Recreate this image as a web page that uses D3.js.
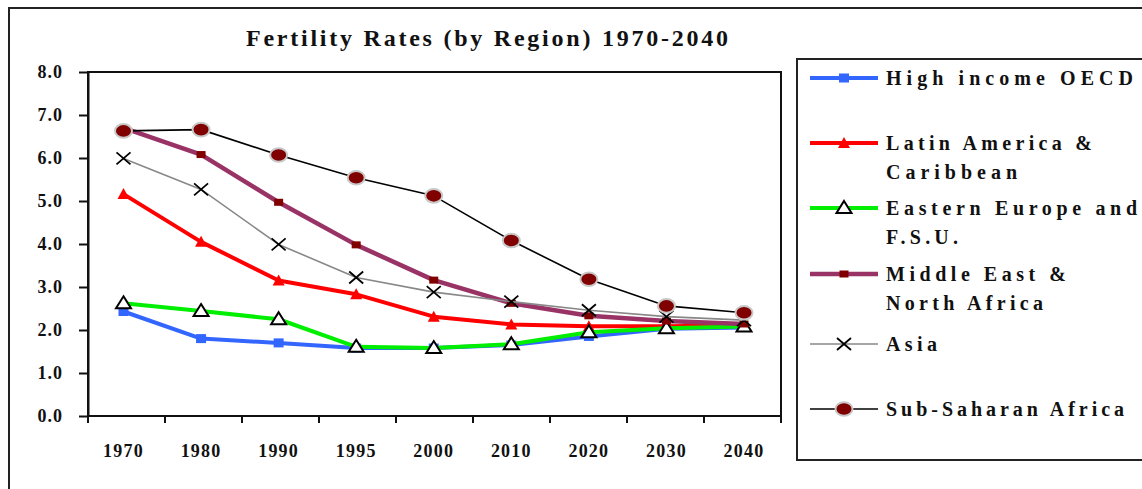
<!DOCTYPE html>
<html>
<head>
<meta charset="utf-8">
<script src="https://cdn.jsdelivr.net/npm/d3@7"></script>
<style>
  body { margin: 0; background: #fff; }
  text { font-family: "Liberation Serif", "Times New Roman", serif; font-weight: bold; fill: #111; }
</style>
</head>
<body>
<svg id="chart" width="1142" height="489"></svg>
<script>
// data
const years = ["1970", "1980", "1990", "1995", "2000", "2010", "2020", "2030", "2040"];
const highIncomeOECD = [2.43, 1.80, 1.70, 1.58, 1.58, 1.65, 1.85, 2.03, 2.06];
const latinAmerica   = [5.16, 4.05, 3.15, 2.83, 2.31, 2.13, 2.09, 2.09, 2.11];
const easternEurope  = [2.62, 2.44, 2.25, 1.61, 1.58, 1.67, 1.95, 2.04, 2.08];
const middleEast     = [6.70, 6.08, 4.97, 3.98, 3.16, 2.62, 2.33, 2.21, 2.14];
const asia           = [5.99, 5.27, 3.99, 3.22, 2.88, 2.66, 2.46, 2.31, 2.23];
const subSaharan     = [6.63, 6.66, 6.07, 5.54, 5.12, 4.08, 3.18, 2.56, 2.40];
const yTicks = [0, 1, 2, 3, 4, 5, 6, 7, 8];

const series = [
  {name: ["High income OECD"], values: highIncomeOECD, color: "#3366ff", width: 4, marker: "square"},
  {name: ["Latin America &", "Caribbean"], values: latinAmerica, color: "#ff0000", width: 4, marker: "tri"},
  {name: ["Eastern Europe and", "F.S.U."], values: easternEurope, color: "#00ee00", width: 4, marker: "hollowtri"},
  {name: ["Middle East &", "North Africa"], values: middleEast, color: "#993366", width: 4.5, marker: "smallsquare"},
  {name: ["Asia"], values: asia, color: "#888888", width: 1.6, marker: "x"},
  {name: ["Sub-Saharan Africa"], values: subSaharan, color: "#000000", width: 1.6, marker: "circle"}
];

const svg = d3.select("#chart");

// outer frame (runs off the picture on right and bottom)
svg.append("rect").attr("x", 9).attr("y", 8).attr("width", 1200).attr("height", 520)
  .attr("fill", "none").attr("stroke", "#222").attr("stroke-width", 2);

svg.append("text").attr("x", 246).attr("y", 46)
  .attr("textLength", 482).attr("lengthAdjust", "spacing")
  .style("font-size", "24px")
  .text("Fertility Rates (by Region) 1970-2040");

let plot = {left: 88, top: 72, right: 781, bottom: 416};

let xBand = d3.scaleBand().domain(years).range([plot.left, plot.right]).padding(0);
let x = d3.scalePoint().domain(years).range([123.5, 744]);
let y = d3.scaleLinear().domain([0, 8]).range([plot.bottom, plot.top]);

// plot frame
svg.append("rect").attr("x", plot.left).attr("y", plot.top)
  .attr("width", plot.right - plot.left).attr("height", plot.bottom - plot.top)
  .attr("fill", "none").attr("stroke", "#111").attr("stroke-width", 2);

// y axis
let yAxis = svg.append("g").attr("transform", "translate(" + plot.left + ",0)")
  .call(d3.axisLeft(y).tickValues(yTicks).tickFormat(d3.format(".1f")).tickSize(9).tickSizeOuter(0).tickPadding(16));
yAxis.attr("font-family", null);
yAxis.select(".domain").attr("stroke", "#111").attr("stroke-width", 2);
yAxis.selectAll(".tick line").attr("stroke", "#111").attr("stroke-width", 2);
yAxis.selectAll("text").style("font-size", "18px").style("letter-spacing", "1px")
  .attr("fill", "#111");

// x axis ticks on band edges
let edges = years.map(d => xBand(d)).concat([xBand.range()[1]]);
svg.append("g").selectAll("line").data(edges).enter().append("line")
  .attr("x1", d => d).attr("x2", d => d)
  .attr("y1", plot.bottom).attr("y2", plot.bottom + 7)
  .attr("stroke", "#111").attr("stroke-width", 2);
svg.append("g").selectAll("text").data(years).enter().append("text")
  .attr("x", d => x(d)).attr("y", 457).attr("text-anchor", "middle")
  .style("font-size", "18px").style("letter-spacing", "1.2px")
  .text(d => d);

function drawMarker(g, type, color) {
  if (type === "square") {
    g.append("rect").attr("x", -5).attr("y", -4.5).attr("width", 10).attr("height", 9).attr("fill", color);
  } else if (type === "smallsquare") {
    g.append("rect").attr("x", -4.5).attr("y", -3.5).attr("width", 9).attr("height", 7).attr("fill", "#800000");
  } else if (type === "tri") {
    g.append("path").attr("d", "M0,-6L6,5L-6,5Z").attr("fill", color);
  } else if (type === "hollowtri") {
    g.append("path").attr("d", "M0,-7L7.5,5L-7.5,5Z").attr("fill", "#fff")
      .attr("stroke", "#000").attr("stroke-width", 2).attr("stroke-linejoin", "miter");
  } else if (type === "x") {
    g.append("path").attr("d", "M-7,-6L7,6M-7,6L7,-6").attr("stroke", "#000").attr("stroke-width", 1.8);
  } else if (type === "circle") {
    g.append("ellipse").attr("rx", 8.5).attr("ry", 6.8).attr("fill", "#800000")
      .attr("stroke", "#c8c8c8").attr("stroke-width", 2);
  }
}

let line = d3.line().x(d => x(d[0])).y(d => y(d[1]));

for (let s of series) {
  let pts = years.map((yr, i) => [yr, s.values[i]]);
  svg.append("path").datum(pts).attr("d", line).attr("fill", "none")
    .attr("stroke", s.color).attr("stroke-width", s.width).attr("stroke-linejoin", "round");
  svg.append("g").selectAll("g").data(pts).enter().append("g")
    .attr("transform", d => "translate(" + x(d[0]) + "," + y(d[1]) + ")")
    .each(function() { drawMarker(d3.select(this), s.marker, s.color); });
}

// legend
svg.append("rect").attr("x", 797).attr("y", 59).attr("width", 400).attr("height", 401)
  .attr("fill", "#fff").attr("stroke", "#222").attr("stroke-width", 2);
let legendRows = [78, 143, 208, 274, 344, 409];
// measured widths of each legend line in the reference
let legendWidths = [[247], [206, 131], [251, 72], [180, 157], [51], [238]];
series.forEach((s, i) => {
  let cy = legendRows[i];
  let g = svg.append("g");
  g.append("line").attr("x1", 810).attr("x2", 878).attr("y1", cy).attr("y2", cy)
    .attr("stroke", s.color).attr("stroke-width", s.width);
  let mg = g.append("g").attr("transform", "translate(844," + cy + ")");
  drawMarker(mg, s.marker, s.color);
  s.name.forEach((t, j) => {
    g.append("text").attr("x", 886).attr("y", cy + 7 + j * 29)
      .attr("textLength", legendWidths[i][j]).attr("lengthAdjust", "spacing")
      .style("font-size", "20px").text(t);
  });
});
</script>
</body>
</html>
